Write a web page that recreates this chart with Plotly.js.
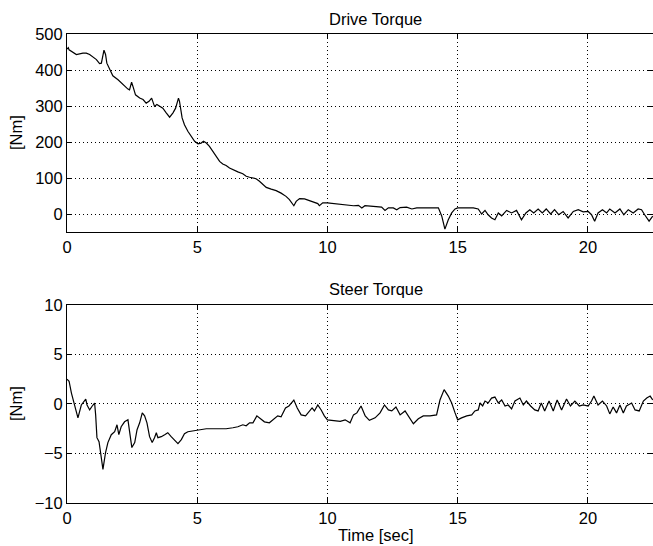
<!DOCTYPE html>
<html>
<head>
<meta charset="utf-8">
<script src="https://cdn.plot.ly/plotly-3.0.1.min.js"></script>
<style>html,body{margin:0;padding:0;background:#fff;overflow:hidden}</style>
</head>
<body>
<div id="chart" style="width:653px;height:546px"></div>
<script>
// Drive torque [Nm] vs time [sec]
const driveTime = [0,0.05,0.08,0.36,0.61,0.74,0.87,1.13,1.25,1.32,1.42,1.48,1.53,1.64,1.76,1.96,2.15,2.34,2.40,2.48,2.53,2.63,2.79,2.92,3.04,3.15,3.25,3.36,3.45,3.55,3.68,3.81,3.94,4.07,4.17,4.28,4.32,4.42,4.51,4.64,4.77,4.90,5.03,5.15,5.24,5.35,5.47,5.60,5.73,5.86,5.98,6.11,6.24,6.37,6.56,6.75,6.88,7.01,7.14,7.26,7.39,7.52,7.65,7.84,8.03,8.22,8.41,8.54,8.64,8.71,8.80,8.93,9.12,9.31,9.50,9.63,9.69,9.82,10.0,10.23,10.49,10.74,11.0,11.19,11.32,11.44,11.76,12.08,12.21,12.34,12.53,12.66,12.79,13.04,13.24,13.43,13.68,14.07,14.26,14.39,14.51,14.64,14.77,14.90,15.0,15.22,15.6,15.79,15.92,16.05,16.17,16.30,16.43,16.56,16.69,16.88,17.07,17.26,17.45,17.62,17.77,17.92,18.09,18.25,18.40,18.57,18.72,18.88,19.05,19.24,19.44,19.63,19.82,20.01,20.14,20.26,20.39,20.56,20.72,20.84,21.04,21.23,21.38,21.55,21.74,21.93,22.06,22.18,22.35,22.49];
const driveTorque = [458,462,456,443,447,447,443,429,418,419,455,443,419,401,384,373,359,347,345,366,355,331,322,318,308,313,322,299,304,299,294,281,269,281,294,322,313,267,248,230,216,202,195,197,202,197,188,174,160,146,139,135,128,123,117,112,105,102,100,98,91,81,74,69,65,58,49,40,29,23,35,43,42,37,32,29,23,31,31,29,26,25,23,24,17,23,21,19,10,17,17,12,18,19,14,17,17,17,17,-6,-42,-16,3,14,17,17,17,14,0,10,-2,-11,-16,3,-5,10,3,10,-16,3,12,3,14,3,14,0,12,-2,7,-11,7,12,6,7,-2,-20,3,12,3,14,3,14,-2,12,3,14,12,-2,-20,-6];

// Steer torque [Nm] vs time [sec]
const steerTime = [0,0.08,0.17,0.29,0.42,0.55,0.64,0.72,0.77,0.87,0.97,1.06,1.10,1.15,1.23,1.29,1.38,1.48,1.57,1.70,1.83,1.92,1.99,2.08,2.21,2.34,2.40,2.49,2.60,2.69,2.79,2.89,2.98,3.07,3.17,3.27,3.36,3.43,3.49,3.62,3.75,3.87,4.0,4.13,4.26,4.39,4.51,4.64,4.83,5.09,5.35,5.60,5.86,6.11,6.37,6.56,6.75,6.88,7.01,7.14,7.29,7.39,7.58,7.77,7.90,8.09,8.22,8.39,8.52,8.61,8.71,8.84,8.99,9.16,9.31,9.41,9.50,9.63,9.76,9.88,10.0,10.23,10.49,10.68,10.87,11.0,11.13,11.29,11.45,11.61,11.83,12.02,12.19,12.34,12.47,12.63,12.79,12.98,13.11,13.30,13.49,13.68,13.94,14.19,14.32,14.48,14.64,14.77,14.90,15.0,15.15,15.35,15.54,15.66,15.79,15.86,15.96,16.05,16.17,16.30,16.43,16.56,16.69,16.82,16.94,17.07,17.20,17.39,17.52,17.64,17.80,17.96,18.09,18.21,18.34,18.51,18.67,18.82,18.99,19.18,19.33,19.50,19.67,19.82,20.01,20.14,20.23,20.39,20.56,20.72,20.84,20.97,21.10,21.23,21.36,21.48,21.68,21.81,21.97,22.13,22.26,22.39,22.49];
const steerTorque = [2.5,2.3,1.1,-0.2,-1.4,-0.1,0.2,0.5,-0.1,-0.6,-0.2,0.1,-1.1,-3.4,-3.8,-4.9,-6.6,-4.9,-3.9,-3.1,-2.8,-2.1,-3.1,-2.3,-1.8,-1.6,-2.9,-4.4,-3.9,-2.6,-1.9,-0.9,-1.2,-1.9,-3.3,-3.9,-3.4,-2.9,-3.4,-3.3,-3.1,-2.9,-3.3,-3.6,-4.0,-3.6,-3.0,-2.8,-2.7,-2.6,-2.5,-2.5,-2.5,-2.5,-2.4,-2.3,-2.1,-2.2,-1.9,-1.9,-1.2,-1.4,-1.8,-1.9,-1.6,-1.2,-1.3,-0.4,-0.2,0.1,0.4,-0.4,-1.1,-1.2,-0.7,-0.4,-0.7,-0.1,-0.6,-1.2,-1.6,-1.65,-1.75,-1.6,-1.9,-1.1,-0.9,-0.2,-1.2,-1.65,-1.4,-0.9,-0.1,-0.6,-0.7,-0.3,-1.1,-0.7,-1.2,-2.0,-1.5,-1.2,-1.2,-1.1,0.4,1.45,0.8,0.1,-0.9,-1.6,-1.4,-1.2,-1.1,-0.7,-0.6,0.1,-0.2,0.3,0.1,0.6,0.7,0.1,0.4,-0.2,-0.1,-0.5,0.3,0.6,-0.1,0.3,-0.2,-0.6,-0.7,0.1,-0.7,0.3,-0.7,0.4,-0.6,0.5,-0.2,0.3,-0.2,-0.1,-0.2,0.3,0.8,-0.1,0.3,-0.2,-1.0,-0.3,-0.9,-0.1,-0.9,-0.2,0.1,-0.6,-0.7,0.3,0.6,0.8,0.4];

const xTicks = [0,5,10,15,20];
const driveTicks = [0,100,200,300,400,500];
const steerTicks = [-10,-5,0,5,10];
const titles = ["Drive Torque","Steer Torque"];
const yLabel = "[Nm]";
const xLabel = "Time [sec]";

const FONT = "Liberation Sans, Arial, Helvetica, sans-serif";
const FS = 16.5;
const lineStyle = {color:"#000", width:1.2};

const traces = [
  {x:driveTime, y:driveTorque, type:"scatter", mode:"lines", line:lineStyle, xaxis:"x", yaxis:"y", hoverinfo:"skip"},
  {x:steerTime, y:steerTorque, type:"scatter", mode:"lines", line:lineStyle, xaxis:"x2", yaxis:"y2", hoverinfo:"skip"}
];

const axCommon = {
  showline:true, linecolor:"#000", linewidth:1, mirror:"ticks",
  ticks:"inside", ticklen:5, tickcolor:"#000", tickwidth:1,
  showgrid:true, gridcolor:"#000", gridwidth:1, griddash:"1px,3px",
  zeroline:false, tickfont:{family:FONT, size:FS, color:"#000"},
  fixedrange:true
};

const topDom = [0.5778, 1];
const botDom = [0, 0.4222];

const layout = {
  width:653, height:546,
  margin:{l:67, r:0, t:34, b:43},
  paper_bgcolor:"#fff", plot_bgcolor:"#fff",
  showlegend:false,
  font:{family:FONT, size:FS, color:"#000"},
  xaxis:Object.assign({}, axCommon, {domain:[0,1], range:[0,22.5], tickvals:xTicks, anchor:"y"}),
  yaxis:Object.assign({}, axCommon, {domain:topDom, range:[-50,500], tickvals:driveTicks, anchor:"x"}),
  xaxis2:Object.assign({}, axCommon, {domain:[0,1], range:[0,22.5], tickvals:xTicks, anchor:"y2"}),
  yaxis2:Object.assign({}, axCommon, {domain:botDom, range:[-10,10], tickvals:steerTicks, anchor:"x2"}),
  annotations:[
    {text:titles[0], xref:"x", yref:"paper", x:11.85, y:topDom[1], yanchor:"middle", xanchor:"center", yshift:15, showarrow:false, font:{family:FONT,size:FS}},
    {text:titles[1], xref:"x", yref:"paper", x:11.85, y:botDom[1], yanchor:"middle", xanchor:"center", yshift:16, showarrow:false, font:{family:FONT,size:FS}},
    {text:yLabel, xref:"paper", yref:"paper", x:0, y:(topDom[0]+topDom[1])/2, xshift:-51, textangle:-90, xanchor:"center", yanchor:"middle", showarrow:false, font:{family:FONT,size:FS}},
    {text:yLabel, xref:"paper", yref:"paper", x:0, y:(botDom[0]+botDom[1])/2, xshift:-51, textangle:-90, xanchor:"center", yanchor:"middle", showarrow:false, font:{family:FONT,size:FS}},
    {text:xLabel, xref:"x2", yref:"paper", x:11.85, y:0, yshift:-32, xanchor:"center", yanchor:"middle", showarrow:false, font:{family:FONT,size:FS}}
  ]
};

Plotly.newPlot("chart", traces, layout, {displayModeBar:false, staticPlot:true});
</script>
</body>
</html>
